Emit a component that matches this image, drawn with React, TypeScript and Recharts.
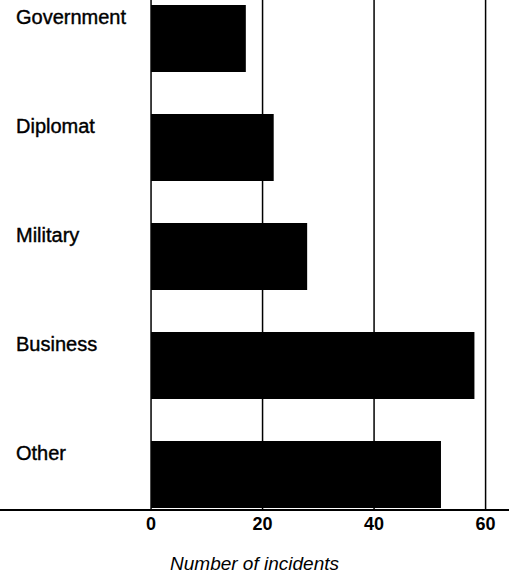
import React from "react";
import { BarChart, Bar, XAxis, YAxis, ReferenceLine, LabelList } from "recharts";

const categories = ["Government", "Diplomat", "Military", "Business", "Other"];
const incidents = [17, 22, 28, 58, 52];
const xTicks = [0, 20, 40, 60];

const data = categories.map((name, i) => ({ name, value: incidents[i] }));

const FONT = "'Liberation Sans', Arial, Helvetica, sans-serif";

const CategoryLabel = (props: any) => {
  const { y, value } = props;
  return (
    <text
      x={16}
      y={Number(y) + 12}
      dominantBaseline="central"
      textAnchor="start"
      fontFamily={FONT}
      fontSize={20}
      fill="#000"
      stroke="#000"
      strokeWidth={0.4}
    >
      {value}
    </text>
  );
};

export default function App() {
  return (
    <div style={{ position: "absolute", left: 0, top: 0, background: "#fff" }}>
      <BarChart
        width={509}
        height={577}
        data={data}
        layout="vertical"
        margin={{ top: 0, right: 0, bottom: 0, left: 0 }}
      >
        <XAxis
          type="number"
          domain={[-27.09, 64.2]}
          ticks={xTicks}
          allowDataOverflow
          height={67}
          axisLine={{ stroke: "#000", strokeWidth: 2 }}
          tickLine={false}
          tickSize={0}
          tickMargin={7}
          tick={{ fill: "#000", fontSize: 18, fontWeight: "bold", fontFamily: FONT }}
          label={{
            value: "Number of incidents",
            position: "insideBottom",
            offset: 7,
            fill: "#000",
            fontSize: 19,
            fontStyle: "italic",
            fontFamily: FONT,
          }}
        />
        <YAxis
          type="category"
          dataKey="name"
          width={0}
          padding={{ top: -16, bottom: -19 }}
          axisLine={false}
          tickLine={false}
          tick={false}
        />
        {xTicks.map((t) => (
          <ReferenceLine key={t} x={t} stroke="#000" strokeWidth={1.5} ifOverflow="extendDomain" />
        ))}
        <Bar dataKey="value" fill="#000" barSize={67} isAnimationActive={false}>
          <LabelList dataKey="name" content={<CategoryLabel />} />
        </Bar>
      </BarChart>
    </div>
  );
}
